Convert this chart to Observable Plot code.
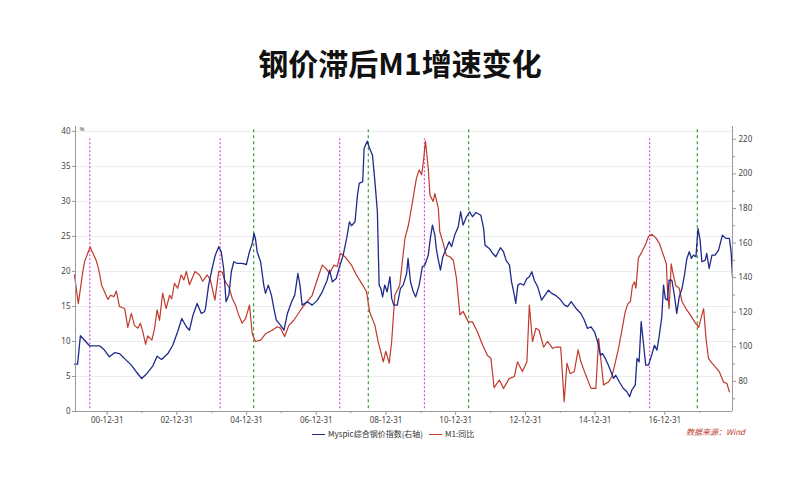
<!DOCTYPE html>
<html><head><meta charset="utf-8">
<script src="https://cdn.jsdelivr.net/npm/d3@7"></script>
<script src="https://cdn.jsdelivr.net/npm/@observablehq/plot@0.6"></script>
<style>
body{margin:0;background:#fff;font-family:"Noto Sans CJK SC","Noto Sans",sans-serif;}
#wrap{position:relative;width:800px;height:500px;overflow:hidden;}
#title{height:100px;box-sizing:border-box;padding-top:46px;text-align:center;font-size:30px;line-height:32px;font-weight:bold;color:#111;}
#legend{position:absolute;top:428px;left:306px;font-size:8px;color:#333;white-space:nowrap;line-height:12px;}
#legend span.ln{display:inline-block;width:13px;height:0;border-top:1.2px solid;vertical-align:middle;margin:0 3px 0 6px;}
#source{position:absolute;top:426px;left:686px;font-size:8px;color:#c0392b;font-style:italic;}
</style></head>
<body><div id="wrap">
<div id="title">钢价滞后M1增速变化</div>
<div id="chart"></div>
<div id="legend"><span class="ln" style="border-color:#1f2a8a"></span>Myspic综合钢价指数(右轴)<span class="ln" style="border-color:#c0392b"></span>M1:同比</div>
<div id="source">数据来源：Wind</div>
</div>
<script>
// M1 YoY (%), left axis: [decimal year, value]
const m1 = [[2000.06,19.5],[2000.17,15.4],[2000.30,20.0],[2000.35,21.4],[2000.51,23.5],[2000.68,21.6],[2000.75,20.4],[2000.84,18.0],[2001.02,16.0],[2001.09,16.6],[2001.19,16.4],[2001.26,17.2],[2001.35,15.0],[2001.50,14.7],[2001.59,12.0],[2001.69,14.0],[2001.78,12.3],[2001.88,11.9],[2001.95,12.6],[2002.02,11.4],[2002.10,9.6],[2002.16,10.8],[2002.28,10.2],[2002.36,11.9],[2002.43,14.5],[2002.50,13.0],[2002.59,16.9],[2002.69,14.7],[2002.79,16.6],[2002.85,16.1],[2002.93,18.3],[2003.02,17.6],[2003.12,19.5],[2003.20,18.8],[2003.27,20.0],[2003.36,18.1],[2003.52,20.0],[2003.65,19.5],[2003.74,18.6],[2003.87,19.5],
[2003.96,18.8],[2004.09,15.9],[2004.20,20.0],[2004.30,19.9],[2004.39,18.5],[2004.49,17.8],[2004.59,16.1],[2004.68,15.2],[2004.77,13.8],[2004.87,12.6],[2004.97,13.3],[2005.08,15.2],[2005.16,11.1],[2005.25,10.0],[2005.40,10.2],[2005.54,11.1],[2005.73,11.6],[2005.88,12.1],[2005.97,11.9],[2006.09,10.7],[2006.21,12.3],[2006.35,13.0],[2006.55,14.5],[2006.69,15.4],[2006.88,16.6],[2007.07,19.5],[2007.17,20.9],[2007.28,20.4],[2007.38,19.7],[2007.50,20.9],[2007.60,20.7],[2007.69,22.6],
[2007.82,22.1],[2008.01,20.9],[2008.15,19.5],[2008.30,18.3],[2008.44,17.1],[2008.53,14.2],[2008.68,12.3],[2008.77,10.0],[2008.92,7.1],[2008.99,8.6],[2009.09,6.9],[2009.16,10.0],[2009.25,16.6],[2009.39,18.0],[2009.54,24.7],[2009.64,26.6],[2009.76,30.0],[2009.87,33.3],[2009.95,34.5],[2010.02,33.8],[2010.08,36.1],[2010.13,38.6],[2010.21,34.7],[2010.26,30.9],[2010.35,30.0],[2010.40,31.1],[2010.50,29.0],[2010.54,25.7],[2010.64,24.0],[2010.73,22.3],[2010.83,22.1],[2010.93,21.6],[2011.02,19.0],[2011.12,13.8],[2011.21,14.3],[2011.36,12.8],
[2011.48,12.8],[2011.62,11.4],[2011.77,9.5],[2011.91,8.0],[2012.01,7.6],[2012.10,3.4],[2012.25,4.5],[2012.37,3.3],[2012.53,4.7],[2012.68,5.0],[2012.77,7.1],[2012.91,5.7],[2013.04,7.1],[2013.11,15.2],[2013.20,10.0],[2013.30,11.9],[2013.39,11.6],[2013.52,9.2],[2013.63,10.0],[2013.78,9.0],[2013.87,9.2],[2014.01,9.2],[2014.11,1.4],[2014.19,6.9],[2014.28,5.4],[2014.40,5.7],[2014.51,8.8],[2014.59,7.1],[2014.73,5.2],[2014.88,3.3],[2015.02,3.3],[2015.10,10.4],[2015.17,7.1],[2015.24,3.8],
[2015.38,4.2],[2015.48,5.0],[2015.55,6.4],[2015.67,9.0],[2015.76,11.4],[2015.86,14.2],[2015.94,15.4],[2016.01,15.7],[2016.07,18.0],[2016.13,18.5],[2016.17,17.6],[2016.24,21.9],[2016.34,22.8],[2016.44,23.8],[2016.53,25.0],[2016.63,25.3],[2016.74,24.8],[2016.84,24.0],[2016.96,22.3],[2017.04,21.1],[2017.08,16.6],[2017.12,14.7],[2017.18,21.1],[2017.22,20.0],[2017.31,18.0],[2017.41,17.6],[2017.49,15.7],[2017.60,14.7],[2017.73,13.8],[2017.85,12.8],[2017.97,12.0],[2018.06,13.8],[2018.11,14.7],[2018.18,10.4],[2018.25,7.6],[2018.35,6.9],[2018.44,6.4],[2018.56,5.7],[2018.68,4.2],[2018.78,4.0],[2018.85,2.8]];

// Myspic steel price index, right axis: [decimal year, value]
const myspic = [[2000.06,90.0],[2000.15,90.0],[2000.23,106.4],[2000.35,103.8],[2000.49,100.6],[2000.78,100.6],[2000.92,98.1],[2001.06,94.2],[2001.21,96.6],[2001.35,96.1],[2001.49,93.3],[2001.69,89.4],[2001.83,85.6],[2001.99,81.7],[2002.14,84.6],[2002.31,89.0],[2002.43,94.6],[2002.56,92.7],[2002.74,96.1],[2002.88,100.9],[2003.02,108.7],[2003.14,116.4],[2003.27,111.6],[2003.36,109.6],[2003.46,118.3],[2003.58,125.1],[2003.70,119.3],[2003.79,120.3],[2003.82,122.2],
[2003.91,135.7],[2004.01,145.3],[2004.10,153.0],[2004.20,157.9],[2004.27,155.0],[2004.34,145.3],[2004.41,126.1],[2004.49,129.9],[2004.56,143.4],[2004.63,149.2],[2004.73,148.2],[2004.87,148.2],[2004.99,147.6],[2005.08,155.0],[2005.16,159.8],[2005.21,165.6],[2005.25,162.7],[2005.30,155.0],[2005.40,149.2],[2005.49,135.7],[2005.54,130.9],[2005.62,135.7],[2005.71,129.9],[2005.78,122.2],[2005.85,115.4],[2005.97,112.5],[2006.07,109.6],[2006.17,119.3],[2006.29,126.1],[2006.38,129.9],[2006.47,142.4],[2006.53,135.7],[2006.59,124.1],[2006.74,126.1],[2006.88,124.1],[2007.03,127.0],[2007.17,131.8],[2007.31,138.5],[2007.38,144.3],[2007.46,137.6],[2007.57,139.5],[2007.65,145.3],
[2007.77,153.0],[2007.87,162.7],[2007.95,172.3],[2008.01,170.0],[2008.11,172.3],[2008.18,187.7],[2008.23,194.5],[2008.33,195.5],[2008.37,214.7],[2008.46,218.9],[2008.53,214.7],[2008.61,210.8],[2008.68,195.5],[2008.75,178.1],[2008.80,135.7],[2008.85,133.7],[2008.90,128.9],[2008.96,135.7],[2009.03,131.8],[2009.11,140.5],[2009.16,128.0],[2009.22,124.1],[2009.32,124.1],[2009.41,133.7],[2009.49,135.7],[2009.59,142.4],[2009.63,151.1],[2009.70,137.6],[2009.78,131.8],[2009.85,128.9],[2009.95,135.7],[2010.04,146.3],[2010.11,147.2],[2010.21,153.0],[2010.27,162.7],[2010.33,170.4],[2010.40,164.6],[2010.44,156.9],[2010.49,151.1],[2010.56,144.3],[2010.63,152.1],[2010.73,156.9],[2010.81,160.8],[2010.88,157.9],[2010.97,164.6],[2011.07,169.4],[2011.14,178.1],[2011.21,170.4],[2011.31,175.2],[2011.40,178.1],
[2011.48,175.2],[2011.58,177.7],[2011.72,176.1],[2011.80,168.4],[2011.84,158.8],[2011.96,156.9],[2012.06,154.0],[2012.15,152.1],[2012.28,157.3],[2012.37,155.0],[2012.44,150.1],[2012.54,147.2],[2012.60,137.6],[2012.68,129.9],[2012.72,125.1],[2012.78,135.7],[2012.85,136.6],[2012.95,135.7],[2013.04,139.5],[2013.11,140.5],[2013.18,143.4],[2013.25,138.5],[2013.35,134.7],[2013.46,127.0],[2013.56,129.9],[2013.66,132.8],[2013.75,130.9],[2013.85,129.9],[2013.97,128.0],[2014.12,124.1],[2014.21,123.2],[2014.31,126.1],[2014.45,122.2],[2014.59,119.3],[2014.69,115.4],[2014.78,110.6],[2014.88,111.6],[2014.98,108.7],[2015.07,102.9],[2015.15,95.2],
[2015.21,96.1],[2015.29,93.3],[2015.38,89.4],[2015.53,81.7],[2015.59,83.6],[2015.69,79.8],[2015.81,75.9],[2015.91,74.0],[2015.99,71.1],[2016.05,74.9],[2016.15,77.8],[2016.20,93.3],[2016.26,91.3],[2016.32,114.5],[2016.39,100.9],[2016.45,89.4],[2016.53,89.4],[2016.62,95.2],[2016.70,100.9],[2016.77,98.1],[2016.84,106.7],[2016.91,117.4],[2016.96,135.7],[2017.01,128.0],[2017.07,127.0],[2017.12,138.5],[2017.20,138.5],[2017.27,129.9],[2017.34,119.3],[2017.41,128.9],[2017.49,133.7],[2017.56,141.4],[2017.63,151.1],[2017.70,155.0],[2017.76,151.1],[2017.82,153.0],[2017.89,152.1],[2017.95,168.4],[2018.01,161.7],[2018.06,149.2],[2018.16,150.1],[2018.20,154.0],[2018.27,145.3],[2018.35,153.0],[2018.44,153.0],[2018.54,155.9],[2018.65,164.6],[2018.75,162.7],[2018.85,162.7],[2018.90,155.0],[2018.94,140.5]];

// vertical marker dates (decimal years)
const magentaLines = [2000.50, 2004.24, 2007.67, 2010.10, 2016.56];
const greenLines = [2005.20, 2008.49, 2011.37, 2017.93];

// tick values
const xMajorYears = [2000, 2002, 2004, 2006, 2008, 2010, 2012, 2014, 2016];
const xMinorYears = [2001, 2003, 2005, 2007, 2009, 2011, 2013, 2015, 2017];
const leftTicks = [0, 5, 10, 15, 20, 25, 30, 35, 40];
const rightTicks = [80, 100, 120, 140, 160, 180, 200, 220];
const rightMinor = [70, 90, 110, 130, 150, 170, 190, 210];

const toDate = t => { const y = Math.floor(t); const s = Date.UTC(y,0,1), e = Date.UTC(y+1,0,1); return new Date(s + (t - y) * (e - s)); };
const L0 = 0, L1 = 40.7, R0 = 62.6, R1 = 227.4;
const k = (L1 - L0) / (R1 - R0);
const toLeft = r => (r - R0) * k;
const yearEnd = y => new Date(Date.UTC(y, 11, 31));

const redData = m1.map(([t, v]) => ({date: toDate(t), v}));
const blueData = myspic.map(([t, v]) => ({date: toDate(t), v: toLeft(v)}));
const xDomain = [toDate(2000.09), toDate(2018.94)];
const axisStyle = {fontSize: 8, color: "#444"};

const chart = Plot.plot({
  width: 800, height: 330,
  marginTop: 26, marginBottom: 19, marginLeft: 75, marginRight: 68,
  style: {background: "transparent", fontFamily: "'Noto Sans', sans-serif", color: "#444"},
  x: {type: "utc", domain: xDomain},
  y: {domain: [L0, L1]},
  marks: [
    Plot.ruleY(leftTicks.filter(d => d > 0), {stroke: "#ececec", strokeWidth: 1}),
    Plot.ruleX(magentaLines.map(toDate), {x: d => d, y1: 0.4, y2: 38.9, stroke: "#d94fd0", strokeWidth: 1.2, strokeDasharray: "2,2"}),
    Plot.ruleX(greenLines.map(toDate), {x: d => d, y1: 0.4, y2: 40.3, stroke: "#3c9a3c", strokeWidth: 1.2, strokeDasharray: "3,3"}),
    Plot.lineY(redData, {x: "date", y: "v", stroke: "#c0392b", strokeWidth: 1.2}),
    Plot.lineY(blueData, {x: "date", y: "v", stroke: "#1f2a8a", strokeWidth: 1.3}),
    Plot.ruleY([0], {stroke: "#999"}),
    Plot.ruleX([xDomain[0]], {stroke: "#999"}),
    Plot.ruleX([xDomain[1]], {stroke: "#999"}),
    Plot.axisX({ticks: xMajorYears.map(yearEnd), tickFormat: d3.utcFormat("%y-%m-%d"), tickSize: 4, tickPadding: 2, stroke: "#999", label: null, ...axisStyle}),
    Plot.axisX({ticks: xMinorYears.map(yearEnd), tickFormat: () => "", tickSize: 2, stroke: "#999", label: null}),
    Plot.axisY({anchor: "left", ticks: leftTicks, tickSize: 3, tickPadding: 2, stroke: "#999", label: null, ...axisStyle}),
    Plot.axisY({anchor: "right", ticks: rightTicks.map(toLeft), tickFormat: d => String(Math.round(d / k + R0)), tickSize: 3, tickPadding: 3, stroke: "#999", label: null, ...axisStyle}),
    Plot.axisY({anchor: "right", ticks: rightMinor.map(toLeft), tickFormat: () => "", tickSize: 2, stroke: "#999", label: null}),
    Plot.text(["%"], {frameAnchor: "top-left", dx: 4, dy: 0, fontSize: 6, fill: "#444"})
  ]
});
document.getElementById("chart").appendChild(chart);
</script>
</body></html>
